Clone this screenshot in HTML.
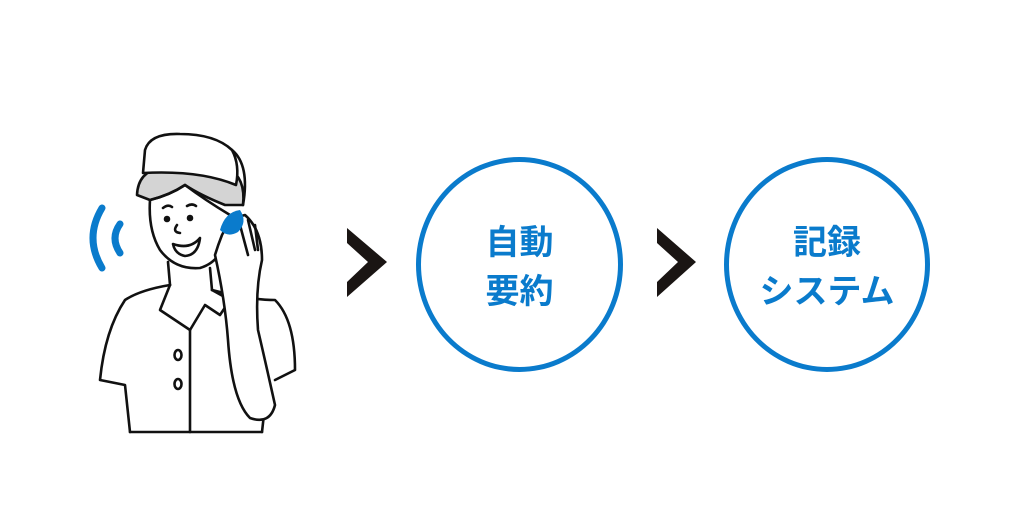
<!DOCTYPE html>
<html><head><meta charset="utf-8"><style>
body{margin:0;width:1030px;height:528px;background:#fff;overflow:hidden;position:relative;font-family:"Liberation Sans","Noto Sans CJK JP",sans-serif}
.c{position:absolute;border:5px solid #0a7bcc;border-radius:50%;box-sizing:border-box;display:flex;align-items:center;justify-content:center;text-align:center;color:#0a7bcc;font-weight:bold;font-size:34px;line-height:49px;padding-top:6px}
</style></head><body>
<svg width="1030" height="528" style="position:absolute;left:0;top:0">
<g fill="none" stroke="#111" stroke-width="2.6" stroke-linecap="round" stroke-linejoin="round">
<path d="M137 195 Q138 172 160 168 Q195 160 228 168 Q246 178 243 205 L225 205 Q200 195 185 185 Q170 195 150 200 Z" fill="#d4d4d4"/>
<path d="M143 173 L145 150 Q150 133 180 134 Q215 134 232 150 Q240 165 236 185 Q200 170 143 173 Z" fill="#fff"/>
<path d="M232 150 Q250 165 243 205"/>
<path d="M150 200 Q148 230 160 250 Q175 270 200 268 Q220 262 225 240 L230 215 Q205 200 185 185 Q170 195 150 200"/>
<circle cx="167" cy="219" r="2" fill="#111"/><circle cx="190" cy="218" r="2" fill="#111"/>
<path d="M163 208 Q168 204 172 207 M187 206 Q192 203 196 206"/>
<path d="M177 225 Q172 232 180 233"/>
<path d="M173 244 Q190 250 200 238 Q198 255 185 256 Q175 254 173 244 Z"/>
<path d="M168 262 L170 285 M210 268 L212 290"/>
<path d="M170 285 Q140 290 125 300 Q105 330 100 380 L125 385 L130 432"/>
<path d="M212 290 Q250 300 275 300 Q295 320 295 370 L275 380"/>
<path d="M130 432 L262 432"/>
<path d="M265 405 L262 432"/>
<path d="M170 285 L160 310 L190 330 L205 305 L220 315 L230 300 L212 290"/>
<path d="M190 330 L190 432"/>
<ellipse cx="178" cy="355" rx="3.5" ry="5"/><ellipse cx="178" cy="384" rx="3.5" ry="5"/>
<path d="M215 255 Q225 300 228 340 Q232 400 250 418 Q270 425 275 405 Q265 360 258 330 Q255 290 262 260 Q262 230 245 215 Q230 218 222 235 Q218 245 215 255 Z" fill="#fff"/>
<path d="M240 225 L248 255 M248 220 L255 250 M255 225 L258 250"/>
</g>
<path d="M220 230 Q225 212 240 210 Q248 222 238 232 Q228 238 220 230 Z" fill="#0a7bcc"/>
<g fill="none" stroke="#0a7bcc" stroke-width="7" stroke-linecap="round">
<path d="M102 208 Q84 238 102 268"/>
<path d="M120 224 Q110 238 120 253"/>
</g>
<polygon points="347,228 387,262 347,297 347,282 368,262 347,243" fill="#1a1513"/>
<polygon points="657,228 696,262 657,297 657,282 678,262 657,243" fill="#1a1513"/>
</svg>
<div class="c" style="left:416px;top:157px;width:207px;height:215px">自動<br>要約</div>
<div class="c" style="left:724px;top:157px;width:206px;height:215px">記録<br>システム</div>
</body></html>
